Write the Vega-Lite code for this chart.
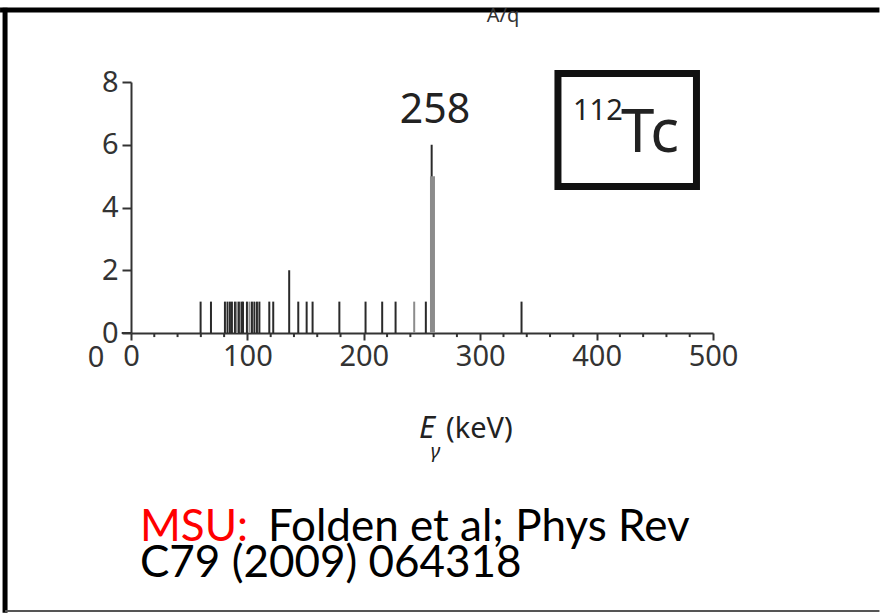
{
  "$schema": "https://vega.github.io/schema/vega-lite/v6.json",
  "width": 582,
  "height": 251,
  "autosize": {"type": "none"},
  "padding": {"left": 131, "top": 82, "right": 167, "bottom": 280},
  "background": "white",
  "config": {"view": {"stroke": null}, "axis": {"labelOverlap": false, "labelFlush": false}},
  "datasets": {
    "events": [
      {"e": 59.8, "n": 1, "tone": "dark"},
      {"e": 68.7, "n": 1, "tone": "dark"},
      {"e": 80.7, "n": 1, "tone": "dark"},
      {"e": 82.9, "n": 1, "tone": "dark"},
      {"e": 85.0, "n": 1, "tone": "dark"},
      {"e": 86.7, "n": 1, "tone": "dark"},
      {"e": 89.3, "n": 1, "tone": "dark"},
      {"e": 91.0, "n": 1, "tone": "gray"},
      {"e": 92.7, "n": 1, "tone": "dark"},
      {"e": 94.9, "n": 1, "tone": "dark"},
      {"e": 96.2, "n": 1, "tone": "dark"},
      {"e": 99.6, "n": 1, "tone": "dark"},
      {"e": 101.8, "n": 1, "tone": "gray"},
      {"e": 103.9, "n": 1, "tone": "dark"},
      {"e": 106.0, "n": 1, "tone": "dark"},
      {"e": 108.2, "n": 1, "tone": "dark"},
      {"e": 110.3, "n": 1, "tone": "dark"},
      {"e": 118.8, "n": 1, "tone": "dark"},
      {"e": 122.2, "n": 1, "tone": "dark"},
      {"e": 135.9, "n": 2, "tone": "dark"},
      {"e": 143.7, "n": 1, "tone": "dark"},
      {"e": 150.9, "n": 1, "tone": "dark"},
      {"e": 156.0, "n": 1, "tone": "dark"},
      {"e": 179.0, "n": 1, "tone": "dark"},
      {"e": 201.5, "n": 1, "tone": "dark"},
      {"e": 215.8, "n": 1, "tone": "dark"},
      {"e": 227.3, "n": 1, "tone": "dark"},
      {"e": 243.3, "n": 1, "tone": "gray"},
      {"e": 253.3, "n": 1, "tone": "dark"},
      {"e": 258.3, "n": 6, "tone": "dark"},
      {"e": 259.0, "n": 5, "tone": "peak"},
      {"e": 335.5, "n": 1, "tone": "dark"}
    ],
    "minorTicks": [
      {"e": 20}, {"e": 40}, {"e": 60}, {"e": 80},
      {"e": 120}, {"e": 140}, {"e": 160}, {"e": 180},
      {"e": 220}, {"e": 240}, {"e": 260}, {"e": 280},
      {"e": 320}, {"e": 340}, {"e": 360}, {"e": 380},
      {"e": 420}, {"e": 440}, {"e": 460}, {"e": 480}
    ],
    "frame": [
      {"x1": -112.5, "x2": 643, "y1": 10.295, "y2": 10.295, "edge": "top"},
      {"x1": -108.2, "x2": -108.2, "y1": 10.37, "y2": -8.92, "edge": "left"},
      {"x1": -108.2, "x2": 643, "y1": -8.86, "y2": -8.86, "edge": "bottom"},
      {"x1": -8, "x2": 0, "y1": 0, "y2": 0, "edge": "axisext"}
    ],
    "box": [{"x1": 366.8, "x2": 485.8, "y1": 8.27, "y2": 4.67}],
    "texts": [
      {"x": 261.2, "y": 6.68, "t": "258", "sz": 41, "grp": "center"},
      {"x": -30, "y": -0.35, "t": "0", "sz": 29, "grp": "centerTop"},
      {"x": 319.6, "y": 10.1, "t": "A/q", "sz": 20, "grp": "centerMid"},
      {"x": 379.7, "y": 6.79, "t": "112", "sz": 29, "grp": "left"},
      {"x": 421.0, "y": 5.77, "t": "Tc", "sz": 60, "grp": "left"},
      {"x": 270.6, "y": -3.35, "t": "(keV)", "sz": 29, "grp": "left"},
      {"x": 247.4, "y": -3.35, "t": "E", "sz": 31, "grp": "italic"},
      {"x": 257.5, "y": -3.98, "t": "γ", "sz": 20, "grp": "italic"},
      {"x": 7.7, "y": -6.63, "t": "MSU:", "sz": 44, "grp": "red"},
      {"x": 117.7, "y": -6.63, "t": "Folden et al; Phys Rev", "sz": 44, "grp": "ref"},
      {"x": 7.7, "y": -7.78, "t": "C79 (2009) 064318", "sz": 44, "grp": "ref"}
    ]
  },
  "layer": [
    {
      "data": {"name": "events"},
      "transform": [{"filter": "datum.tone === 'dark'"}],
      "mark": {"type": "rule", "color": "#2a2a2a", "strokeWidth": 2},
      "encoding": {
        "x": {
          "field": "e", "type": "quantitative",
          "scale": {"domain": [0, 500], "nice": false},
          "axis": {
            "values": [0, 100, 200, 300, 400, 500],
            "tickSize": 7,
            "title": null, "grid": false,
            "labelFont": "Noto Sans", "labelFontSize": 29, "labelColor": "#333333",
            "labelPadding": 2, "labelFlush": false, "labelOverlap": false,
            "domainColor": "#333333", "domainWidth": 2, "tickColor": "#333333", "tickWidth": 2
          }
        },
        "y": {
          "field": "n", "type": "quantitative",
          "scale": {"domain": [0, 8], "nice": false},
          "axis": {
            "values": [0, 1, 2, 3, 4, 5, 6, 7, 8],
            "labelExpr": "datum.value % 2 === 0 ? datum.label : ''",
            "tickSize": {"condition": {"test": "datum.value % 2 === 0", "value": 9}, "value": 5},
            "title": null, "grid": false,
            "labelFont": "Noto Sans", "labelFontSize": 29, "labelColor": "#333333",
            "labelPadding": 4, "labelFlush": false, "labelOverlap": false,
            "domainColor": "#333333", "domainWidth": 2, "tickColor": "#333333", "tickWidth": 2
          }
        },
        "y2": {"datum": 0}
      }
    },
    {
      "data": {"name": "minorTicks"},
      "mark": {"type": "rule", "color": "#333333", "strokeWidth": 2, "clip": false},
      "encoding": {
        "x": {"field": "e", "type": "quantitative"},
        "y": {"datum": 0},
        "y2": {"datum": -0.13}
      }
    },
    {
      "data": {"name": "events"},
      "transform": [{"filter": "datum.tone === 'gray'"}],
      "mark": {"type": "rule", "color": "#8c8c8c", "strokeWidth": 2},
      "encoding": {
        "x": {"field": "e", "type": "quantitative"},
        "y": {"field": "n", "type": "quantitative"},
        "y2": {"datum": 0}
      }
    },
    {
      "data": {"name": "events"},
      "transform": [{"filter": "datum.tone === 'peak'"}],
      "mark": {"type": "rule", "color": "#8c8c8c", "strokeWidth": 5},
      "encoding": {
        "x": {"field": "e", "type": "quantitative"},
        "y": {"field": "n", "type": "quantitative"},
        "y2": {"datum": 0}
      }
    },
    {
      "data": {"name": "frame"},
      "transform": [{"filter": "datum.edge === 'top' || datum.edge === 'left'"}],
      "mark": {"type": "rule", "color": "#000000", "strokeWidth": 5, "clip": false},
      "encoding": {
        "x": {"field": "x1", "type": "quantitative"},
        "x2": {"field": "x2"},
        "y": {"field": "y1", "type": "quantitative"},
        "y2": {"field": "y2"}
      }
    },
    {
      "data": {"name": "frame"},
      "transform": [{"filter": "datum.edge === 'bottom'"}],
      "mark": {"type": "rule", "color": "#555555", "strokeWidth": 2, "clip": false},
      "encoding": {
        "x": {"field": "x1", "type": "quantitative"},
        "x2": {"field": "x2"},
        "y": {"field": "y1", "type": "quantitative"},
        "y2": {"field": "y2"}
      }
    },
    {
      "data": {"name": "frame"},
      "transform": [{"filter": "datum.edge === 'axisext'"}],
      "mark": {"type": "rule", "color": "#333333", "strokeWidth": 2, "clip": false},
      "encoding": {
        "x": {"field": "x1", "type": "quantitative"},
        "x2": {"field": "x2"},
        "y": {"field": "y1", "type": "quantitative"},
        "y2": {"field": "y2"}
      }
    },
    {
      "data": {"name": "box"},
      "mark": {"type": "rect", "filled": false, "stroke": "#111111", "strokeWidth": 7, "clip": false},
      "encoding": {
        "x": {"field": "x1", "type": "quantitative"},
        "x2": {"field": "x2"},
        "y": {"field": "y1", "type": "quantitative"},
        "y2": {"field": "y2"}
      }
    },
    {
      "data": {"name": "texts"},
      "transform": [{"filter": "datum.grp === 'center'"}],
      "mark": {"type": "text", "font": "Noto Sans", "color": "#222222", "align": "center", "baseline": "alphabetic", "clip": false},
      "encoding": {
        "x": {"field": "x", "type": "quantitative"},
        "y": {"field": "y", "type": "quantitative"},
        "text": {"field": "t"},
        "size": {"field": "sz", "type": "quantitative", "scale": null}
      }
    },
    {
      "data": {"name": "texts"},
      "transform": [{"filter": "datum.grp === 'centerTop'"}],
      "mark": {"type": "text", "font": "Noto Sans", "color": "#333333", "align": "center", "baseline": "top", "clip": false},
      "encoding": {
        "x": {"field": "x", "type": "quantitative"},
        "y": {"field": "y", "type": "quantitative"},
        "text": {"field": "t"},
        "size": {"field": "sz", "type": "quantitative", "scale": null}
      }
    },
    {
      "data": {"name": "texts"},
      "transform": [{"filter": "datum.grp === 'centerMid'"}],
      "mark": {"type": "text", "font": "Noto Sans", "color": "#333333", "align": "center", "baseline": "middle", "clip": false},
      "encoding": {
        "x": {"field": "x", "type": "quantitative"},
        "y": {"field": "y", "type": "quantitative"},
        "text": {"field": "t"},
        "size": {"field": "sz", "type": "quantitative", "scale": null}
      }
    },
    {
      "data": {"name": "texts"},
      "transform": [{"filter": "datum.grp === 'left'"}],
      "mark": {"type": "text", "font": "Noto Sans", "color": "#222222", "align": "left", "baseline": "alphabetic", "clip": false},
      "encoding": {
        "x": {"field": "x", "type": "quantitative"},
        "y": {"field": "y", "type": "quantitative"},
        "text": {"field": "t"},
        "size": {"field": "sz", "type": "quantitative", "scale": null}
      }
    },
    {
      "data": {"name": "texts"},
      "transform": [{"filter": "datum.grp === 'italic'"}],
      "mark": {"type": "text", "font": "Noto Sans", "fontStyle": "italic", "color": "#222222", "align": "left", "baseline": "alphabetic", "clip": false},
      "encoding": {
        "x": {"field": "x", "type": "quantitative"},
        "y": {"field": "y", "type": "quantitative"},
        "text": {"field": "t"},
        "size": {"field": "sz", "type": "quantitative", "scale": null}
      }
    },
    {
      "data": {"name": "texts"},
      "transform": [{"filter": "datum.grp === 'red'"}],
      "mark": {"type": "text", "font": "Lato", "color": "#ff0000", "align": "left", "baseline": "alphabetic", "clip": false},
      "encoding": {
        "x": {"field": "x", "type": "quantitative"},
        "y": {"field": "y", "type": "quantitative"},
        "text": {"field": "t"},
        "size": {"field": "sz", "type": "quantitative", "scale": null}
      }
    },
    {
      "data": {"name": "texts"},
      "transform": [{"filter": "datum.grp === 'ref'"}],
      "mark": {"type": "text", "font": "Lato", "color": "#000000", "align": "left", "baseline": "alphabetic", "clip": false},
      "encoding": {
        "x": {"field": "x", "type": "quantitative"},
        "y": {"field": "y", "type": "quantitative"},
        "text": {"field": "t"},
        "size": {"field": "sz", "type": "quantitative", "scale": null}
      }
    }
  ]
}
